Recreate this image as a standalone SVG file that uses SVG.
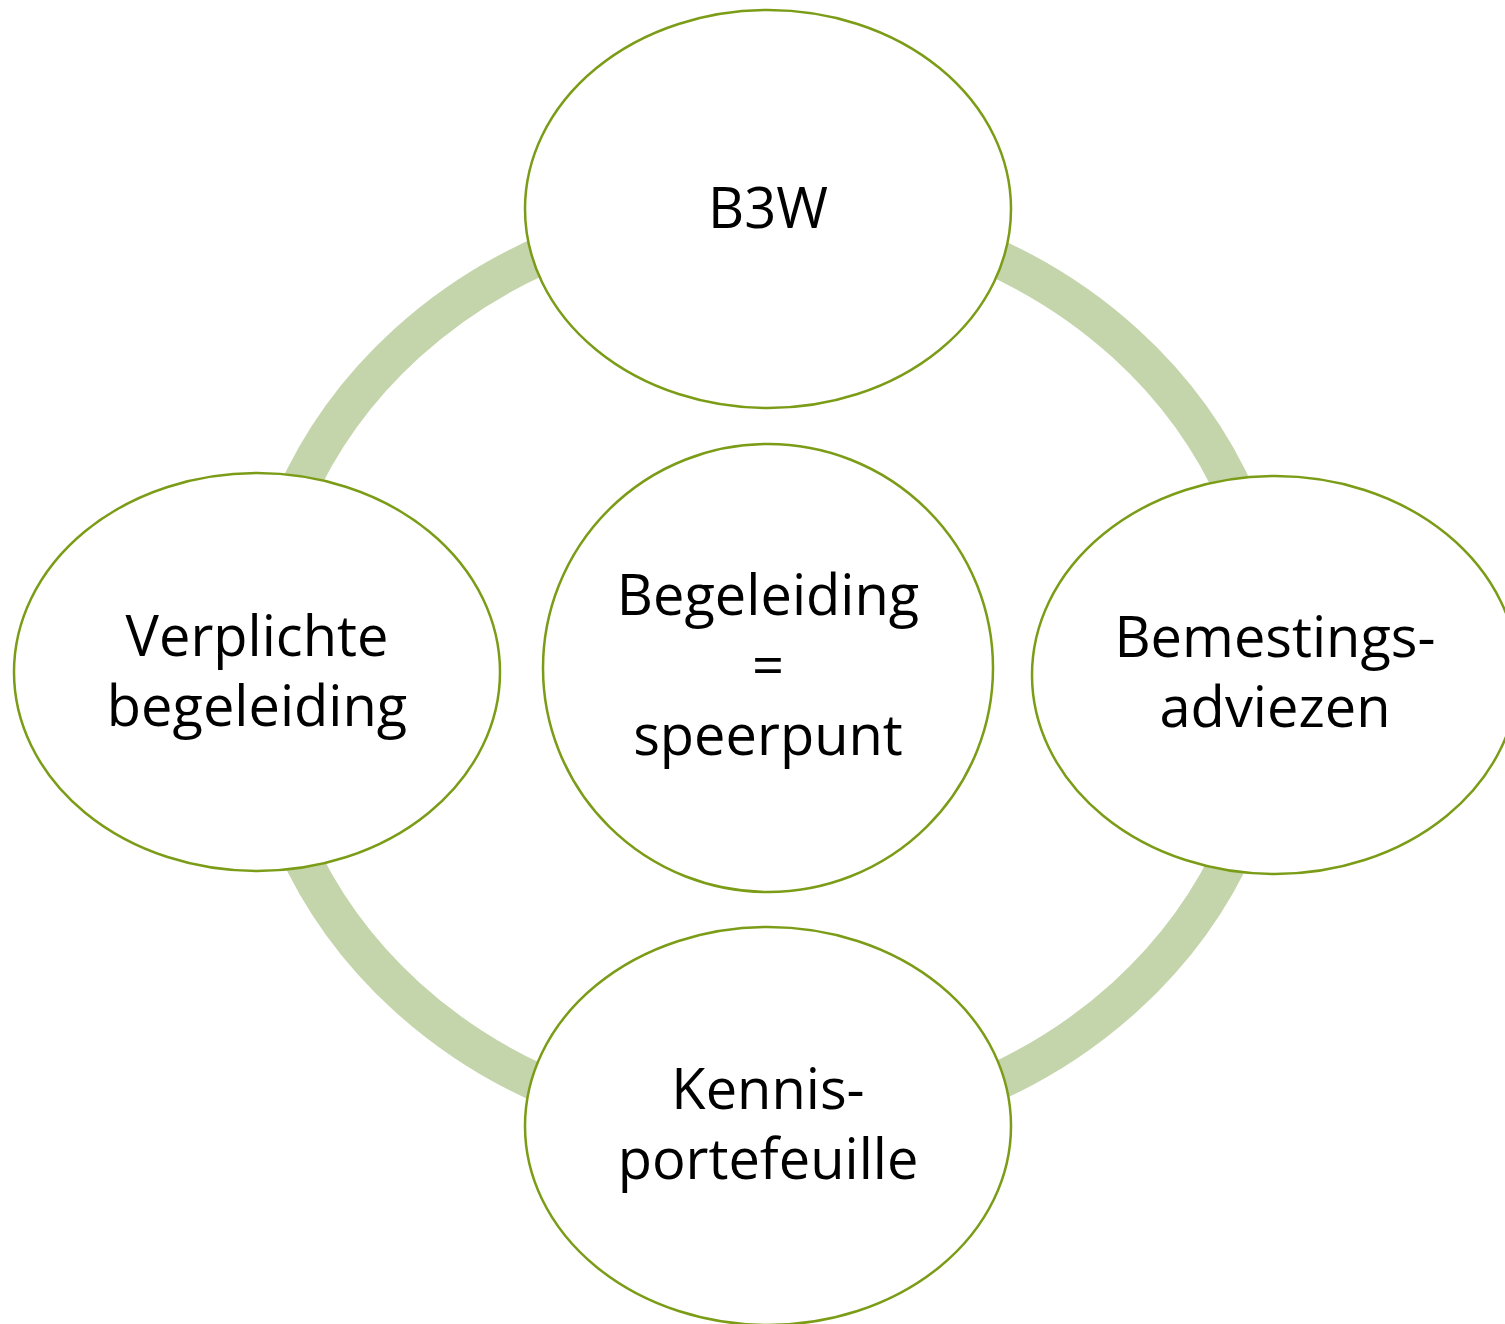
<svg xmlns="http://www.w3.org/2000/svg" width="1505" height="1324" viewBox="0 0 1505 1324">
<style>
.node{fill:#ffffff;stroke:#7b9c17;stroke-width:2.5}
.lbl{font-family:"Open Sans","Noto Sans",sans-serif;font-size:56px;fill:#000000;text-anchor:middle}
</style>
<rect width="1505" height="1324" fill="#ffffff"/>
<g id="connectors">
<ellipse cx="766" cy="670" rx="508" ry="462" fill="none" stroke="#c4d5ab" stroke-width="38"/>
</g>
<g id="node-top">
<ellipse class="node" cx="768" cy="209" rx="243" ry="199"/>
<text class="lbl" x="768" y="228">B3W</text>
</g>
<g id="node-left">
<ellipse class="node" cx="257" cy="672" rx="243" ry="199"/>
<text class="lbl" x="257" y="656">Verplichte</text>
<text class="lbl" x="257" y="726">begeleiding</text>
</g>
<g id="node-right">
<ellipse class="node" cx="1275" cy="675" rx="243" ry="199"/>
<text class="lbl" x="1275" y="657">Bemestings-</text>
<text class="lbl" x="1275" y="727">adviezen</text>
</g>
<g id="node-bottom">
<ellipse class="node" cx="768" cy="1126" rx="243" ry="199"/>
<text class="lbl" x="768" y="1109">Kennis-</text>
<text class="lbl" x="768" y="1179">portefeuille</text>
</g>
<g id="node-center">
<ellipse class="node" cx="768" cy="668" rx="225" ry="224"/>
<text class="lbl" x="768" y="615">Begeleiding</text>
<text class="lbl" x="768" y="685">=</text>
<text class="lbl" x="768" y="755">speerpunt</text>
</g>
</svg>
